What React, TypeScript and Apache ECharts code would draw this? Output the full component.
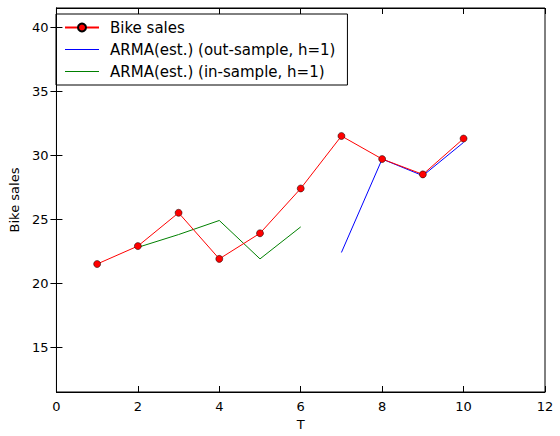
import React, { useEffect, useRef } from "react";
import * as echarts from "echarts";

const T = [1, 2, 3, 4, 5, 6, 7, 8, 9, 10];
const bikeSales = [21.5, 22.9, 25.5, 21.9, 23.9, 27.4, 31.5, 29.7, 28.5, 31.3];
const outT = [7, 8, 9, 10];
const outSample = [22.4, 29.7, 28.4, 31.0];
const inT = [2, 3, 4, 5, 6];
const inSample = [22.8, 23.8, 24.9, 21.9, 24.4];
const yTicks = [15, 20, 25, 30, 35, 40];

const font = "DejaVu Sans";
const lineIcon = "path://M0,4.6 L34,4.6 L34,5.4 L0,5.4 Z";

export default function App() {
  const ref = useRef<HTMLDivElement>(null);
  useEffect(() => {
    const chart = echarts.init(ref.current!, null, { renderer: "svg" });
    const baseX = {
      type: "value", min: 0, max: 12, interval: 2,
      splitLine: { show: false },
      axisLine: { show: true, lineStyle: { color: "#000" } },
    };
    const baseY = {
      type: "value", min: 11.5, max: 41.5,
      splitLine: { show: false },
      axisLine: { show: true, lineStyle: { color: "#000" } },
    };
    chart.setOption({
      animation: false,
      textStyle: { fontFamily: font },
      grid: { left: 48, right: 15, top: 8, bottom: 44, show: true, borderColor: "#000", borderWidth: 1 },
      xAxis: [
        { ...baseX, position: "bottom", name: "T", nameLocation: "middle", nameGap: 22,
          nameTextStyle: { fontSize: 13, color: "#000", fontFamily: font },
          axisTick: { inside: true, length: 6, lineStyle: { color: "#000" } },
          axisLabel: { fontSize: 13, color: "#000", fontFamily: font, margin: 8 } },
        { ...baseX, position: "top",
          axisTick: { inside: true, length: 6, lineStyle: { color: "#000" } },
          axisLabel: { show: false } },
      ],
      yAxis: [
        { ...baseY, position: "left", name: "Bike sales", nameLocation: "middle", nameGap: 28,
          nameTextStyle: { fontSize: 13, color: "#000", fontFamily: font },
          axisTick: { inside: true, length: 6, customValues: yTicks, lineStyle: { color: "#000" } },
          axisLabel: { fontSize: 13, color: "#000", fontFamily: font, customValues: yTicks, margin: 8 } },
        { ...baseY, position: "right",
          axisTick: { inside: true, length: 6, customValues: yTicks, lineStyle: { color: "#000" } },
          axisLabel: { show: false, customValues: yTicks } },
      ],
      legend: {
        left: 56, top: 14, orient: "vertical",
        borderColor: "#000", borderWidth: 1, borderRadius: 0,
        padding: [6, 12, 6, 8], itemGap: 7, itemWidth: 34, itemHeight: 10,
        textStyle: { fontSize: 15, color: "#000", fontFamily: font, padding: [0, 0, 0, 6] },
        data: [
          { name: "Bike sales" },
          { name: "ARMA(est.) (out-sample, h=1)", icon: lineIcon, itemStyle: { color: "#0000ff" } },
          { name: "ARMA(est.) (in-sample, h=1)", icon: lineIcon, itemStyle: { color: "#008000" } },
        ],
      },
      series: [
        { name: "Bike sales", type: "line", data: T.map((t, i) => [t, bikeSales[i]]),
          lineStyle: { color: "#ff0000", width: 1 }, itemStyle: { color: "#ff0000", borderColor: "#000", borderWidth: 0.5 },
          symbol: "circle", symbolSize: 7, z: 3 },
        { name: "ARMA(est.) (out-sample, h=1)", type: "line", data: outT.map((t, i) => [t, outSample[i]]),
          lineStyle: { color: "#0000ff", width: 1 }, itemStyle: { color: "#0000ff" }, symbol: "none", z: 2 },
        { name: "ARMA(est.) (in-sample, h=1)", type: "line", data: inT.map((t, i) => [t, inSample[i]]),
          lineStyle: { color: "#008000", width: 1 }, itemStyle: { color: "#008000" }, symbol: "none", z: 2 },
      ],
    });
    return () => chart.dispose();
  }, []);
  return <div ref={ref} style={{ position: "absolute", left: 0, top: 0, width: 560, height: 436 }} />;
}
